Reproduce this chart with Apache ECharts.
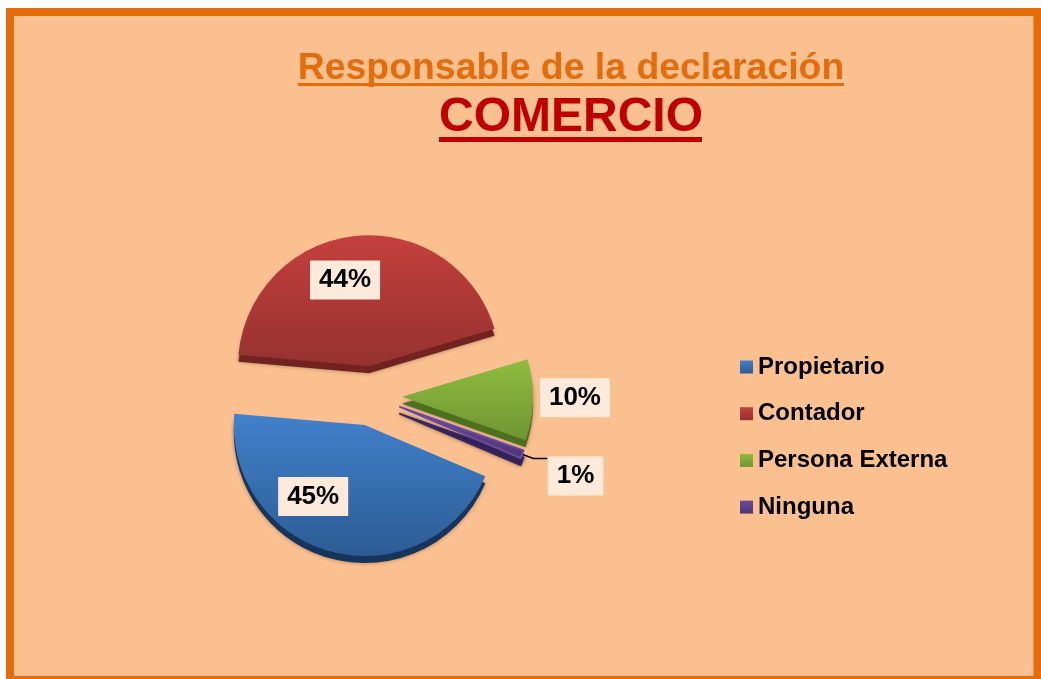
<!DOCTYPE html>
<html><head><meta charset="utf-8">
<style>html,body{margin:0;padding:0;background:#fff}#c{width:1041px;height:679px}</style>
<script src="https://cdn.jsdelivr.net/npm/echarts@6/dist/echarts.min.js"></script>
</head><body><div id="c"></div>
<script>
const categories = ['Propietario','Contador','Persona Externa','Ninguna'];
const values = [45,44,10,1];
const lightColors = ['#4281CC','#C4403D','#8FBC3F','#6A4A9C'];
const darkColors = ['#2C5C94','#953230','#6F9533','#4E3573'];
const sideColors = ['#17355A','#73231F','#4C7020','#3A2660'];
const offsets = [28,27,32,32];
const strokeWidths = [0,0,0,2];
const labelShift = [[-35,5],[-17,-18],[-24,-2.5],[-4.5,17.5]];

const chart = echarts.init(document.getElementById('c'));
const grad = (a,b)=>new echarts.graphic.LinearGradient(0,0,0,1,[{offset:0,color:a},{offset:1,color:b}]);
const fam = '"Liberation Sans",Arial,sans-serif';
const font = {fontFamily:fam,fontWeight:'bold',color:'#000'};
const labelBg = '#FDEADA';
const labelCfg = [
 {position:'inside'},
 {position:'inside'},
 {position:'outside',distance:6},
 {position:'outside',distance:6}
];
const lineCfg = [{show:false},{show:false},{show:false},{show:true}];
const mainData = categories.map((n,i)=>({
  name:n,value:values[i],selected:true,selectedOffset:offsets[i],
  itemStyle:{color:grad(lightColors[i],darkColors[i]),borderWidth:strokeWidths[i],borderColor:lightColors[i]},
  label:Object.assign({show:true,formatter:'{d}%'},labelCfg[i]),
  labelLine:lineCfg[i]
}));
const depthData = categories.map((n,i)=>({
  name:n,value:values[i],selected:true,selectedOffset:offsets[i],
  itemStyle:{color:sideColors[i],borderWidth:strokeWidths[i],borderColor:sideColors[i]}
}));
const center=[372,396], radius=131, start=-23;
chart.setOption({
  animation:false,
  backgroundColor:'#fff',
  title:[
   {text:'Responsable de la declaración',left:566,top:45,textAlign:'center',textStyle:{fontFamily:fam,fontWeight:'bold',fontSize:37.4,color:'#E46C0A'}},
   {text:'COMERCIO',left:566,top:89,textAlign:'center',textStyle:{fontFamily:fam,fontWeight:'bold',fontSize:48,color:'#C00000'}}
  ],
  legend:{orient:'vertical',left:735,top:350,itemWidth:13,itemHeight:13,itemGap:22.7,icon:'rect',
    data:categories,selectedMode:false,itemStyle:{borderWidth:0},
    textStyle:{...font,fontSize:24}},
  graphic:[
   {type:'rect',z:-10,shape:{x:10,y:12,width:1027.5,height:668},style:{fill:'#FBC08F',stroke:'#E46C0A',lineWidth:8}},
   {type:'rect',shape:{x:298,y:83,width:546,height:3},style:{fill:'#E46C0A'}},
   {type:'rect',shape:{x:439,y:137,width:263,height:5},style:{fill:'#C00000'}}
  ],
  series:[
   {type:'pie',name:'main',silent:true,center:center,radius:radius,startAngle:start,clockwise:true,
    selectedMode:'multiple',selectedOffset:30,data:mainData,z:2,
    avoidLabelOverlap:false,
    labelLayout:function(p){return {dx:labelShift[p.dataIndex][0],dy:labelShift[p.dataIndex][1]};},
    label:{...font,fontSize:26,backgroundColor:labelBg,padding:[7,9,6,9]},
    labelLine:{length:12,length2:14,lineStyle:{color:'#000',width:1.5}}},
   {type:'pie',silent:true,center:[center[0],center[1]+7],radius:radius,startAngle:start,clockwise:true,
    selectedMode:'multiple',selectedOffset:30,data:depthData,label:{show:false},labelLine:{show:false},z:1,
    itemStyle:{shadowBlur:4,shadowColor:'rgba(0,0,0,0.35)'}}
  ]
});
</script></body></html>
